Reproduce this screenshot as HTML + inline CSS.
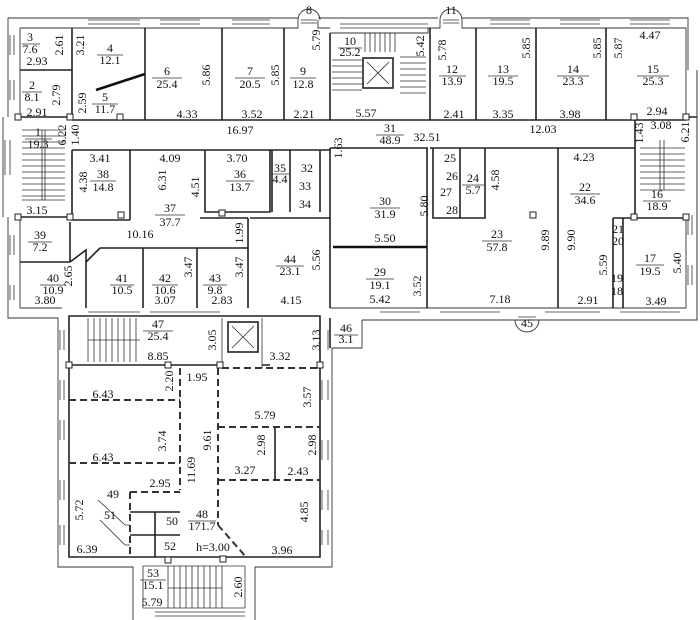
<!DOCTYPE html>
<html><head><meta charset="utf-8"><style>
html,body{margin:0;padding:0;background:#fff}
svg{display:block}
text{font-family:"Liberation Serif",serif;font-size:12px;fill:#111}
.w{stroke:#222;stroke-width:1.6;fill:none}
.t{stroke:#333;stroke-width:0.9;fill:none}
.th{stroke:#111;stroke-width:2.6;fill:none}
.d{stroke:#333;stroke-width:2;fill:none;stroke-dasharray:7 4}
.s{stroke:#333;stroke-width:0.8;fill:none}
</style></head><body>
<svg width="700" height="620" viewBox="0 0 700 620" xmlns="http://www.w3.org/2000/svg">
<path class="t" d="M8 18H298M318 18H438M462 18H688V70M697 70V320H362M330 320V318M8 18V117M3 117V217M8 217V318H58"/>
<path class="t" d="M20 28H298V20M318 20V28H330M330 33H428V28H440V20M462 20V28H686V117M686 218V308H330M20 28V117M20 217V308H62"/>
<path class="t" d="M8 318H58V567H133V620M255 620V567H332V348H362V320"/>
<path class="w" d="M69 316H320V557H69Z"/>
<path class="t" d="M697 70V320"/>
<path class="t" d="M298 20A11 11 0 0 1 320 20M440 20A11 11 0 0 1 462 20M515 320A12 12 0 0 0 539 320"/>
<path class="s" d="M301 20H317M301 23H317M443 20H459M443 23H459M518 320H536M518 317H536"/>
<g class="s">
<path d="M88 20H140M88 24H140M160 20H200M160 24H200M232 20H270M232 24H270M490 20H530M490 24H530M560 20H600M560 24H600M630 20H670M630 24H670M340 24H428M340 28H428"/>
<path d="M10 35V55M14 35V55M10 80V100M14 80V100M5 140V175M10 140V175M10 235V255M14 235V255M10 285V300M14 285V300"/>
<path d="M688 215V235M692 215V235M688 265V285M692 265V285"/>
<path d="M88 312H140M88 316H140M150 312H190M190 312H220M380 312H420M440 312H500M545 312H600M620 312H680"/>
<path d="M60 330V350M64 330V350M60 380V400M64 380V400M60 420V440M64 420V440M60 480V500M64 480V500M60 525V545M64 525V545M320 330V350M328 330V350M322 380V400M328 380V400M322 440V460M328 440V460M322 490V510M328 490V510M322 530V545M328 530V545M155 612H245M155 616H245"/>
</g>
<g class="w">
<path d="M20 70H72M15 117H72M72 28V120M145 28V120M222 28V120M284 28V120M330 33V120"/>
<path d="M72 120H330M72 150H330M330 120H430M330 148H428"/>
<path d="M430 28V120M476 28V120M536 28V120M606 28V120M430 120H686M430 148H635"/>
<path d="M15 217H72M72 150V220H130M130 150V220M205 150V212H270V150M272 150V212M290 150V212M320 150V212"/>
<path d="M250 218H330M248 218V308M200 218H248"/>
<path d="M20 262H70M70 222V262"/>
<path d="M100 248H248M100 248L86 262V308M70 262L86 250L86 262"/>
<path d="M143 248V308M197 248V308"/>
<path d="M330 148V308M427 148V308M433 148V218H485V148M460 148V218M558 148V308"/>
<path d="M635 117V218M613 218H686M613 218V308M623 218V308M686 117H697"/>
</g>
<path class="th" d="M145 74L96 90M333 247H427"/>
<g class="s">
<path d="M22 130H65M22 136H65M22 142H65M22 148H65M22 154H65M22 160H65M22 166H65M22 172H65M22 178H65M22 184H65M22 190H65M22 196H65M42 130V200M45 130V200M22 200H65"/>
<path d="M640 148H685M640 154H685M640 160H685M640 166H685M640 172H685M640 178H685M640 184H685M640 190H685M660 140V190M664 140V190"/>
<path d="M365 33V52M370 33V52M375 33V52M380 33V52M385 33V52M390 33V52M395 33V52M332 60H362M332 66H362M332 72H362M332 78H362M332 84H362M332 90H362M400 57H426M400 63H426M400 69H426M400 75H426M400 81H426M400 87H426M400 93H426"/>
<path d="M88 318V362M94 318V362M100 318V362M106 318V362M112 318V362M118 318V362M124 318V362M130 318V362M136 318V362M88 340H140"/>
<path d="M168 566V608M174 566V608M180 566V608M186 566V608M192 566V608M198 566V608M204 566V608M210 566V608M216 566V608M222 566V608M168 588H222M143 566H245V608H143Z"/>
</g>
<rect x="363" y="58" width="30" height="30" class="w"/>
<path class="s" d="M367 62L389 84M389 62L367 84"/>
<rect x="228" y="322" width="30" height="30" class="w"/>
<path class="s" d="M232 326L254 348M254 326L232 348M222 318V368M262 318V368"/>
<path class="w" d="M69 365H222M262 365H270"/>
<path class="d" d="M222 368H320M180 368V490M218 368V525M69 400H180M69 463H180M218 427H320M218 480H320M130 492H180M130 492V557M218 525L246 557"/>
<path class="w" d="M275 427V480M130 512H180M130 535H180M155 512V557M330 318V348"/>
<g fill="#fff" stroke="#222" stroke-width="1">
<rect x="15" y="114" width="6" height="6"/><rect x="67" y="114" width="6" height="6"/><rect x="15" y="214" width="6" height="6"/><rect x="67" y="214" width="6" height="6"/>
<rect x="117" y="114" width="6" height="6"/><rect x="118" y="212" width="6" height="6"/><rect x="219" y="210" width="6" height="6"/>
<rect x="631" y="114" width="6" height="6"/><rect x="683" y="114" width="6" height="6"/><rect x="631" y="214" width="6" height="6"/><rect x="683" y="214" width="6" height="6"/>
<rect x="530" y="212" width="6" height="6"/>
<rect x="66" y="362" width="6" height="6"/><rect x="165" y="362" width="6" height="6"/><rect x="217" y="362" width="6" height="6"/><rect x="317" y="362" width="6" height="6"/>
<rect x="165" y="557" width="6" height="6"/><rect x="220" y="556" width="6" height="6"/>
</g>
<g text-anchor="middle">
<text x="309" y="14">8</text><text x="451" y="14">11</text><text x="527" y="327">45</text>
<text x="30" y="41">3</text><text x="30" y="53">7.6</text><text x="37" y="65">2.93</text>
<text x="110" y="52">4</text><text x="110" y="64">12.1</text>
<text x="32" y="89">2</text><text x="32" y="101">8.1</text><text x="37" y="116">2.91</text>
<text x="105" y="101">5</text><text x="105" y="113">11.7</text>
<text x="167" y="75">6</text><text x="167" y="88">25.4</text><text x="187" y="118">4.33</text>
<text x="250" y="75">7</text><text x="250" y="88">20.5</text><text x="252" y="118">3.52</text>
<text x="303" y="75">9</text><text x="303" y="88">12.8</text><text x="304" y="118">2.21</text>
<text x="38" y="136">1</text><text x="38" y="148">19.3</text>
<text x="240" y="134">16.97</text>
<text x="100" y="162">3.41</text><text x="170" y="162">4.09</text><text x="237" y="162">3.70</text>
<text x="103" y="178">38</text><text x="103" y="191">14.8</text>
<text x="240" y="178">36</text><text x="240" y="191">13.7</text>
<text x="280" y="172">35</text><text x="280" y="183">4.4</text>
<text x="307" y="172">32</text><text x="305" y="190">33</text><text x="305" y="208">34</text>
<text x="37" y="214">3.15</text>
<text x="170" y="212">37</text><text x="170" y="226">37.7</text><text x="140" y="238">10.16</text>
<text x="40" y="239">39</text><text x="40" y="251">7.2</text>
<text x="53" y="282">40</text><text x="53" y="294">10.9</text><text x="45" y="304">3.80</text>
<text x="122" y="282">41</text><text x="122" y="294">10.5</text>
<text x="165" y="282">42</text><text x="165" y="294">10.6</text><text x="165" y="304">3.07</text>
<text x="215" y="282">43</text><text x="215" y="294">9.8</text><text x="222" y="304">2.83</text>
<text x="290" y="263">44</text><text x="290" y="275">23.1</text><text x="291" y="304">4.15</text>
<text x="350" y="45">10</text><text x="350" y="56">25.2</text>
<text x="366" y="117">5.57</text>
<text x="390" y="132">31</text><text x="390" y="144">48.9</text><text x="427" y="141">32.51</text>
<text x="543" y="133">12.03</text><text x="661" y="129">3.08</text><text x="657" y="115">2.94</text>
<text x="452" y="73">12</text><text x="452" y="85">13.9</text><text x="454" y="118">2.41</text>
<text x="503" y="73">13</text><text x="503" y="85">19.5</text><text x="503" y="118">3.35</text>
<text x="573" y="73">14</text><text x="573" y="85">23.3</text><text x="570" y="118">3.98</text>
<text x="653" y="73">15</text><text x="653" y="85">25.3</text><text x="650" y="39">4.47</text>
<text x="385" y="205">30</text><text x="385" y="218">31.9</text><text x="385" y="242">5.50</text>
<text x="380" y="276">29</text><text x="380" y="289">19.1</text><text x="380" y="303">5.42</text>
<text x="450" y="162">25</text><text x="452" y="180">26</text><text x="446" y="196">27</text><text x="452" y="214">28</text>
<text x="473" y="182">24</text><text x="473" y="194">5.7</text>
<text x="497" y="238">23</text><text x="497" y="251">57.8</text><text x="500" y="303">7.18</text>
<text x="584" y="161">4.23</text><text x="585" y="191">22</text><text x="585" y="204">34.6</text><text x="588" y="304">2.91</text>
<text x="657" y="198">16</text><text x="657" y="210">18.9</text>
<text x="650" y="262">17</text><text x="650" y="275">19.5</text><text x="656" y="305">3.49</text>
<g style="font-size:8px"><text x="618" y="233">21</text><text x="618" y="245">20</text><text x="617" y="282">19</text><text x="617" y="295">18</text></g>
<text x="158" y="328">47</text><text x="158" y="340">25.4</text><text x="158" y="360">8.85</text>
<text x="280" y="360">3.32</text><text x="346" y="332">46</text><text x="346" y="343">3.1</text>
<text x="197" y="381">1.95</text><text x="103" y="398">6.43</text><text x="265" y="419">5.79</text>
<text x="103" y="461">6.43</text><text x="245" y="474">3.27</text><text x="298" y="475">2.43</text>
<text x="160" y="487">2.95</text><text x="113" y="498">49</text><text x="110" y="519">51</text>
<text x="172" y="525">50</text><text x="202" y="518">48</text><text x="202" y="530">171.7</text>
<text x="170" y="550">52</text><text x="213" y="551">h=3.00</text><text x="87" y="553">6.39</text><text x="282" y="554">3.96</text>
<text x="153" y="577">53</text><text x="153" y="589">15.1</text><text x="152" y="606">5.79</text>
</g>
<g text-anchor="middle">
<text transform="translate(63,45) rotate(-90)">2.61</text>
<text transform="translate(84,45) rotate(-90)">3.21</text>
<text transform="translate(60,95) rotate(-90)">2.79</text>
<text transform="translate(86,103) rotate(-90)">2.59</text>
<text transform="translate(210,75) rotate(-90)">5.86</text>
<text transform="translate(279,75) rotate(-90)">5.85</text>
<text transform="translate(320,40) rotate(-90)">5.79</text>
<text transform="translate(66,135) rotate(-90)">6.22</text>
<text transform="translate(79,135) rotate(-90)">1.40</text>
<text transform="translate(87,182) rotate(-90)">4.38</text>
<text transform="translate(166,180) rotate(-90)">6.31</text>
<text transform="translate(199,187) rotate(-90)">4.51</text>
<text transform="translate(243,233) rotate(-90)">1.99</text>
<text transform="translate(72,276) rotate(-90)">2.65</text>
<text transform="translate(192,267) rotate(-90)">3.47</text>
<text transform="translate(243,267) rotate(-90)">3.47</text>
<text transform="translate(320,260) rotate(-90)">5.56</text>
<text transform="translate(424,46) rotate(-90)">5.42</text>
<text transform="translate(342,148) rotate(-90)">1.63</text>
<text transform="translate(446,50) rotate(-90)">5.78</text>
<text transform="translate(530,48) rotate(-90)">5.85</text>
<text transform="translate(601,48) rotate(-90)">5.85</text>
<text transform="translate(622,48) rotate(-90)">5.87</text>
<text transform="translate(643,133) rotate(-90)">1.43</text>
<text transform="translate(689,132) rotate(-90)">6.21</text>
<text transform="translate(428,206) rotate(-90)">5.80</text>
<text transform="translate(421,286) rotate(-90)">3.52</text>
<text transform="translate(499,180) rotate(-90)">4.58</text>
<text transform="translate(549,240) rotate(-90)">9.89</text>
<text transform="translate(575,240) rotate(-90)">9.90</text>
<text transform="translate(607,265) rotate(-90)">5.59</text>
<text transform="translate(681,263) rotate(-90)">5.40</text>
<text transform="translate(216,340) rotate(-90)">3.05</text>
<text transform="translate(320,340) rotate(-90)">3.13</text>
<text transform="translate(173,381) rotate(-90)">2.20</text>
<text transform="translate(311,397) rotate(-90)">3.57</text>
<text transform="translate(166,441) rotate(-90)">3.74</text>
<text transform="translate(211,440) rotate(-90)">9.61</text>
<text transform="translate(265,445) rotate(-90)">2.98</text>
<text transform="translate(316,445) rotate(-90)">2.98</text>
<text transform="translate(195,470) rotate(-90)">11.69</text>
<text transform="translate(83,510) rotate(-90)">5.72</text>
<text transform="translate(308,512) rotate(-90)">4.85</text>
<text transform="translate(242,587) rotate(-90)">2.60</text>
</g>
<path class="s" d="M22 44H40M97 55H123M22 92H42M92 104H118M152 78H182M235 78H265M290 78H316M25 139H52M90 181H116M226 181H254M270 174H290M155 215H185M28 242H52M40 285H66M110 285H134M152 285H178M203 285H227M276 266H304M338 48H362M376 135H404M439 76H466M488 76H518M557 76H589M637 76H669M370 208H400M366 279H394M462 185H484M482 241H512M570 194H600M643 201H671M636 265H664M143 331H173M334 335H358M188 521H216M140 580H166"/>
<path class="s" d="M98 500L125 525H130M100 520L125 545H130"/>
</svg>
</body></html>
